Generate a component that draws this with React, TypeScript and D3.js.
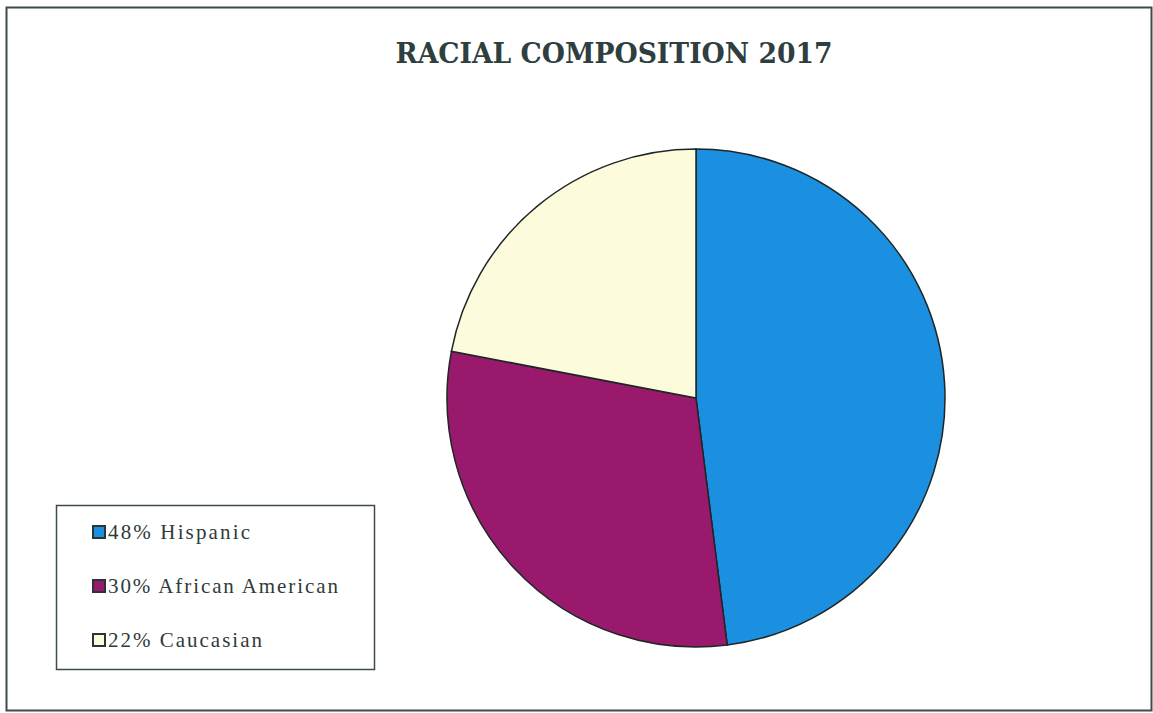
import React from "react";
import * as d3 from "d3";

const categories = ["Hispanic", "African American", "Caucasian"];
const values = [48, 30, 22];
const colors = ["#1b8fe0", "#991a6c", "#fcfbdb"];
const title = "RACIAL COMPOSITION 2017";

const W = 1153;
const H = 713;

export default function App() {
  const cx = 696;
  const cy = 398;
  const r = 249;
  const pie = d3.pie<number>().sort(null).value((d) => d)(values);
  const arc = d3.arc<d3.PieArcDatum<number>>().innerRadius(0).outerRadius(r);
  const legendY = d3.scalePoint<number>().domain(d3.range(categories.length)).range([539, 647]);
  const legendW = [142, 230, 154];
  return (
    <svg width={W} height={H} style={{ position: "fixed", left: 0, top: 0, background: "#fff" }}>
      <rect x={6.5} y={7.5} width={1145} height={703} fill="#fff" stroke="#3d4b4b" strokeWidth={2} />
      <text x={614} y={63} textAnchor="middle" style={{ fontFamily: "DejaVu Serif" }} fontWeight="bold" fontSize={28} fill="#2f3f3f"
        textLength={437} lengthAdjust="spacingAndGlyphs">
        {title}
      </text>
      <g transform={`translate(${cx},${cy})`}>
        {pie.map((p, i) => (
          <path key={i} d={arc(p) || ""} fill={colors[i]} stroke="#1e2626" strokeWidth={1.5} />
        ))}
      </g>
      <rect x={56.5} y={505.5} width={318} height={164} fill="#fff" stroke="#3d4b4b" strokeWidth={1.5} />
      {categories.map((c, i) => (
        <g key={c} transform={`translate(93,${legendY(i)})`}>
          <rect x={0} y={-13} width={12} height={12} fill={colors[i]} stroke="#2a3535" strokeWidth={2} />
          <text x={15} y={0} style={{ fontFamily: "Liberation Serif" }} fontSize={21} fill="#2f3a3a"
            textLength={legendW[i]} lengthAdjust="spacing">
            {`${values[i]}% ${c}`}
          </text>
        </g>
      ))}
    </svg>
  );
}
